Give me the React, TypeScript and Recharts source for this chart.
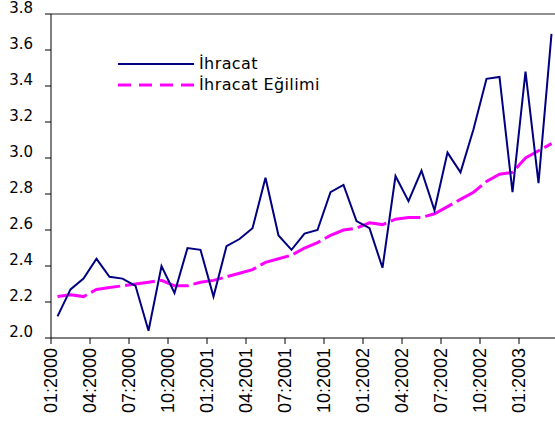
import React from 'react';
import { LineChart, Line, XAxis, YAxis, Legend, ReferenceLine } from 'recharts';

const months = [
    '01:2000', '02:2000', '03:2000', '04:2000', '05:2000', '06:2000', '07:2000', '08:2000', '09:2000', '10:2000', '11:2000', '12:2000',
    '01:2001', '02:2001', '03:2001', '04:2001', '05:2001', '06:2001', '07:2001', '08:2001', '09:2001', '10:2001', '11:2001', '12:2001',
    '01:2002', '02:2002', '03:2002', '04:2002', '05:2002', '06:2002', '07:2002', '08:2002', '09:2002', '10:2002', '11:2002', '12:2002',
    '01:2003', '02:2003', '03:2003',
];

const ihracat = [
    2.12, 2.27, 2.33, 2.44, 2.34, 2.33, 2.29, 2.04, 2.40, 2.25, 2.50, 2.49,
    2.23, 2.51, 2.55, 2.61, 2.89, 2.57, 2.49, 2.58, 2.60, 2.81, 2.85, 2.65,
    2.61, 2.39, 2.90, 2.76, 2.93, 2.71, 3.03, 2.92, 3.16, 3.44, 3.45, 2.81,
    3.48, 2.86, 3.69,
];

const egilim = [
    2.23, 2.24, 2.23, 2.27, 2.28, 2.29, 2.30, 2.31, 2.32, 2.29, 2.29, 2.31,
    2.32, 2.34, 2.36, 2.38, 2.42, 2.44, 2.46, 2.50, 2.53, 2.57, 2.60, 2.61,
    2.64, 2.63, 2.66, 2.67, 2.67, 2.69, 2.73, 2.77, 2.81, 2.87, 2.91, 2.92,
    3.00, 3.04, 3.08,
];

const tickLabels = ['01:2000', '04:2000', '07:2000', '10:2000', '01:2001', '04:2001', '07:2001', '10:2001', '01:2002', '04:2002', '07:2002', '10:2002', '01:2003'];
const yTicks = [2.0, 2.2, 2.4, 2.6, 2.8, 3.0, 3.2, 3.4, 3.6, 3.8];

// ticks sit on the boundaries between months, like the Excel original
const xTicks = tickLabels.map((l) => months.indexOf(l) - 0.5);

const data = months.map((m, i) => ({ idx: i, month: m, ihracat: ihracat[i], egilim: egilim[i] }));

const XTick = ({ x, y, payload }: any) => {
    const label = months[payload.value + 0.5] || '';
    return (
        <text x={x} y={y} transform={`rotate(-90 ${x} ${y})`} textAnchor="end" dominantBaseline="central"
            fontFamily="'Liberation Sans', Arial, sans-serif" fontSize={18} fill="#000">
            {label}
        </text>
    );
};

const YTick = ({ x, y, payload }: any) => (
    <text x={x} y={y - 6} textAnchor="end" dominantBaseline="central"
        fontFamily="'DejaVu Sans', Tahoma, sans-serif" fontSize={15} fill="#000">
        {payload.value.toFixed(1)}
    </text>
);

const LegendBox = () => (
    <div style={{ fontFamily: "'DejaVu Sans', Tahoma, sans-serif", fontSize: 16, letterSpacing: 0.4, color: '#000' }}>
        <div style={{ display: 'flex', alignItems: 'center', height: 21 }}>
            <svg width={76} height={21}><line x1={0} x2={76} y1={11} y2={11} stroke="#000080" strokeWidth={2} /></svg>
            <span style={{ marginLeft: 5 }}>İhracat</span>
        </div>
        <div style={{ display: 'flex', alignItems: 'center', height: 21 }}>
            <svg width={76} height={21}><line x1={0} x2={76} y1={11} y2={11} stroke="#ff00ff" strokeWidth={3} strokeDasharray="13 8" /></svg>
            <span style={{ marginLeft: 5 }}>İhracat Eğilimi</span>
        </div>
    </div>
);

const App = () => {
    return (
        <div style={{ position: 'absolute', left: 0, top: 0, width: 555, height: 425, overflow: 'hidden', background: '#fff' }}>
            <LineChart width={560} height={425} data={data} margin={{ top: 14, right: 2, bottom: 7, left: 0 }}>
                <XAxis dataKey="idx" type="number" domain={[-0.5, 38.5]} ticks={xTicks} interval={0}
                    height={80} tickSize={6} tickMargin={4} stroke="#000" tick={<XTick />} allowDataOverflow />
                <YAxis type="number" domain={[2.0, 3.8]} ticks={yTicks} interval={0} width={51}
                    tickSize={6} tickMargin={12} stroke="#000" tick={<YTick />} allowDataOverflow />
                <ReferenceLine y={3.8} stroke="#222" strokeWidth={1} ifOverflow="visible" />
                <Legend layout="vertical" align="center" verticalAlign="middle" content={<LegendBox />}
                    wrapperStyle={{ left: 118, top: 53, width: 'auto' }} />
                <Line type="linear" dataKey="egilim" stroke="#ff00ff" strokeWidth={3} strokeDasharray="30 5" dot={false} isAnimationActive={false} />
                <Line type="linear" dataKey="ihracat" stroke="#000080" strokeWidth={2} dot={false} isAnimationActive={false} />
            </LineChart>
        </div>
    );
};

export default App;
